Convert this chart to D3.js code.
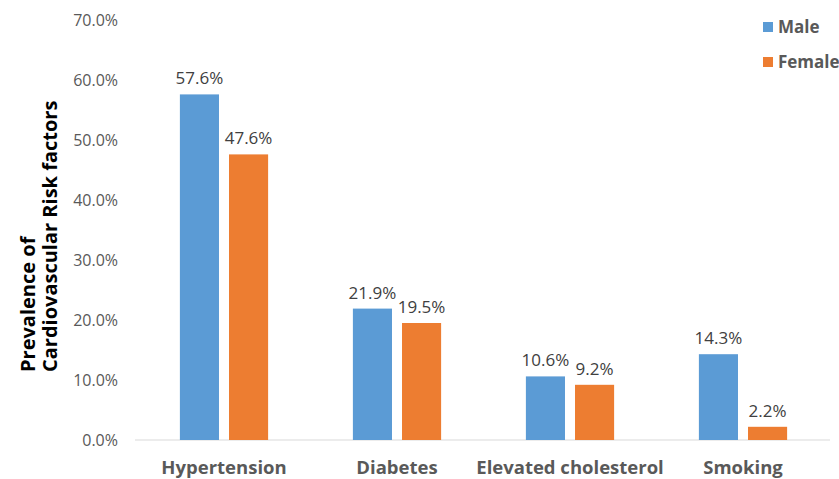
<!DOCTYPE html>
<html>
<head>
<meta charset="utf-8">
<script src="https://cdn.jsdelivr.net/npm/d3@7"></script>
<style>
  body { margin: 0; background: #fff; }
  svg { display: block; font-family: "Open Sans", "Noto Sans", sans-serif; }
</style>
</head>
<body>
<svg width="839" height="479"></svg>
<script>
const categories = ["Hypertension", "Diabetes", "Elevated cholesterol", "Smoking"];
const series = ["Male", "Female"];
const maleValues = [57.6, 21.9, 10.6, 14.3];
const femaleValues = [47.6, 19.5, 9.2, 2.2];
const yTicks = [0, 10, 20, 30, 40, 50, 60, 70];
const colors = ["#5B9BD5", "#ED7D31"];

const svg = d3.select("svg");
const margin = { left: 137.5, right: 9.5, top: 20, bottom: 39 };
const width = 839, height = 479;

const x0 = d3.scaleBand()
    .domain(categories)
    .range([margin.left, width - margin.right])
    .paddingInner(0.49)
    .paddingOuter(0.245);

const x1 = d3.scaleBand()
    .domain(series)
    .range([0, x0.bandwidth()])
    .paddingInner(0.204);

const y = d3.scaleLinear().domain([0, 70]).range([height - margin.bottom, margin.top]);

const color = d3.scaleOrdinal().domain(series).range(colors);

const rows = categories.map((c, i) => ({
    category: c,
    values: [
        { key: "Male", value: maleValues[i] },
        { key: "Female", value: femaleValues[i] }
    ]
}));

// y axis labels only
const yAxis = d3.axisLeft(y).tickValues(yTicks).tickFormat(d => d.toFixed(1) + "%").tickSize(0).tickPadding(0);
const gy = svg.append("g").attr("transform", `translate(118,0)`).call(yAxis);
gy.select(".domain").remove();
gy.selectAll("text").attr("fill", "#595959").style("font-size", "16px").style("font-family", "'Open Sans', sans-serif");

// baseline
svg.append("line")
    .attr("x1", 135).attr("x2", 830)
    .attr("y1", y(0)).attr("y2", y(0))
    .attr("stroke", "#d9d9d9").attr("stroke-width", 1);

const groups = svg.selectAll(".group")
    .data(rows)
    .enter()
    .append("g")
    .attr("transform", d => `translate(${x0(d.category)},0)`);

groups.selectAll("rect")
    .data(d => d.values)
    .enter()
    .append("rect")
    .attr("x", d => x1(d.key))
    .attr("y", d => y(d.value))
    .attr("width", x1.bandwidth())
    .attr("height", d => y(0) - y(d.value))
    .attr("fill", d => color(d.key));

groups.selectAll(".label")
    .data(d => d.values)
    .enter()
    .append("text")
    .attr("x", d => x1(d.key) + x1.bandwidth() / 2)
    .attr("y", d => y(d.value) - 10)
    .attr("text-anchor", "middle")
    .attr("fill", "#404040")
    .style("font-size", "17px")
    .text(d => d.value.toFixed(1) + "%");

// x axis category labels
const xAxis = d3.axisBottom(x0).tickSize(0).tickPadding(0);
const gx = svg.append("g").attr("transform", `translate(0,${y(0) + 21})`).call(xAxis);
gx.select(".domain").remove();
gx.selectAll("text")
    .attr("fill", "#595959")
    .attr("dy", "0.71em")
    .style("font-size", "18.5px")
    .style("font-weight", "bold")
    .style("font-family", "'Open Sans', sans-serif");

// y title
const title = svg.append("text")
    .attr("transform", "translate(0,372) rotate(-90)")
    .attr("fill", "#000")
    .style("font-size", "20px")
    .style("font-weight", "bold");
title.append("tspan").attr("x", 0).attr("y", 35).text("Prevalence of");
title.append("tspan").attr("x", 0).attr("y", 57).text("Cardiovascular Risk factors");

// legend
const legend = svg.selectAll(".legend")
    .data(series)
    .enter()
    .append("g")
    .attr("transform", (d, i) => `translate(763,${22 + i * 35})`);
legend.append("rect").attr("width", 10).attr("height", 10).attr("fill", d => color(d));
legend.append("text")
    .attr("x", 15).attr("y", 5).attr("dy", "0.35em")
    .attr("fill", "#595959")
    .style("font-size", "17px")
    .style("font-weight", "bold")
    .text(d => d);
</script>
</body>
</html>
